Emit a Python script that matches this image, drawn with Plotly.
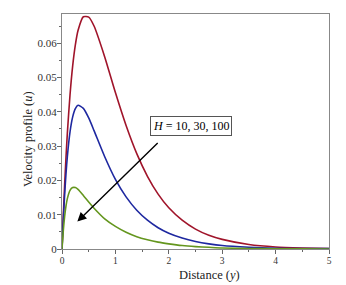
import plotly.graph_objects as go

# distance values (y)
distance = [0, 0.025, 0.05, 0.075, 0.1, 0.15, 0.2, 0.25, 0.3, 0.4, 0.5, 0.6, 0.8,
            1.0, 1.2, 1.4, 1.6, 1.8, 2.0, 2.25, 2.5, 2.75, 3.0, 3.5, 4.0, 4.5, 5.0]

# velocity profiles
u_H10 = [0, 0.0100, 0.0189, 0.0268, 0.0337, 0.0449, 0.0534, 0.0595, 0.0637, 0.0677,
         0.0676, 0.0650, 0.0560, 0.0456, 0.0360, 0.0278, 0.0212, 0.0160, 0.0120,
         0.0084, 0.0058, 0.0040, 0.0028, 0.0013, 0.0006, 0.0003, 0.0001]
u_H30 = [0, 0.0087, 0.0160, 0.0220, 0.0269, 0.0341, 0.0385, 0.0409, 0.0419, 0.0410,
         0.0382, 0.0345, 0.0269, 0.0203, 0.0152, 0.0113, 0.0084, 0.0062, 0.0046,
         0.0032, 0.0022, 0.0015, 0.0010, 0.0005, 0.0002, 0.0001, 0.0001]
u_H100 = [0, 0.0055, 0.0096, 0.0126, 0.0147, 0.0171, 0.0179, 0.0179, 0.0174, 0.0156,
          0.0137, 0.0119, 0.0088, 0.0066, 0.0049, 0.0036, 0.0027, 0.0020, 0.0015,
          0.0010, 0.0007, 0.0005, 0.0003, 0.00015, 0.00007, 0.00003, 0.00002]

series = [(u_H10, "rgb(160,20,42)", "H=10"),
          (u_H30, "rgb(30,40,160)", "H=30"),
          (u_H100, "rgb(100,150,30)", "H=100")]

y_ticks = [0, 0.01, 0.02, 0.03, 0.04, 0.05, 0.06]
y_tick_labels = ["0", "0.01", "0.02", "0.03", "0.04", "0.05", "0.06"]
x_ticks = [0, 1, 2, 3, 4, 5]
x_tick_labels = ["0", "1", "2", "3", "4", "5"]

FONT = "Liberation Serif"

fig = go.Figure()
for vals, col, name in series:
    fig.add_trace(go.Scatter(x=distance, y=vals, mode="lines", name=name,
                             line=dict(color=col, width=1.6, shape="spline", smoothing=0.6)))

# arrow
fig.add_annotation(x=0.287, y=0.0080, ax=1.82, ay=0.0313, xref="x", yref="y",
                   axref="x", ayref="y", text="", showarrow=True,
                   arrowhead=2, arrowsize=1.3, arrowwidth=1.4, arrowcolor="black")
# label box
fig.add_annotation(x=2.42, y=0.0360, xref="x", yref="y", showarrow=False,
                   text="<i>H</i> = 10, 30, 100",
                   font=dict(family=FONT, size=12, color="black"),
                   bordercolor="#555", borderwidth=1, borderpad=2, bgcolor="white")
# axis titles
fig.add_annotation(x=0.551, y=-0.11, xref="paper", yref="paper", showarrow=False,
                   xanchor="center", yanchor="middle",
                   text="Distance (<i>y</i>)", font=dict(family=FONT, size=12.5, color="#222"))
fig.add_annotation(x=-0.127, y=0.468, xref="paper", yref="paper", showarrow=False,
                   xanchor="center", yanchor="middle", textangle=-90,
                   text="Velocity profile (<i>u</i>)", font=dict(family=FONT, size=12.5, color="#222"))

fig.update_layout(
    width=346, height=285,
    margin=dict(l=62, r=17, t=14, b=36),
    plot_bgcolor="white", paper_bgcolor="white",
    showlegend=False,
    font=dict(family=FONT, color="#333"),
)
fig.update_xaxes(range=[0, 5], tickvals=x_ticks, ticktext=x_tick_labels,
                 automargin=False,
                 showgrid=False, zeroline=False, showline=True, linecolor="#888",
                 linewidth=1.2, mirror=True, ticks="outside", ticklen=4,
                 tickcolor="#666", tickfont=dict(size=9.5, family=FONT, color="#333"),
                 ticklabelstandoff=-2,
                 minor=dict(dtick=0.5, ticks="outside", ticklen=2, tickcolor="#666"))
fig.update_yaxes(range=[0, 0.0685], tickvals=y_ticks, ticktext=y_tick_labels,
                 automargin=False,
                 showgrid=False, zeroline=False, showline=True, linecolor="#888",
                 linewidth=1.2, mirror=True, ticks="outside", ticklen=4,
                 tickcolor="#666", tickfont=dict(size=11, family=FONT, color="#333"),
                 ticklabelstandoff=-2,
                 minor=dict(dtick=0.005, ticks="outside", ticklen=2, tickcolor="#666"))

fig.write_html("out.html", config={"displayModeBar": False},
               post_script="document.body.style.margin='0';")
